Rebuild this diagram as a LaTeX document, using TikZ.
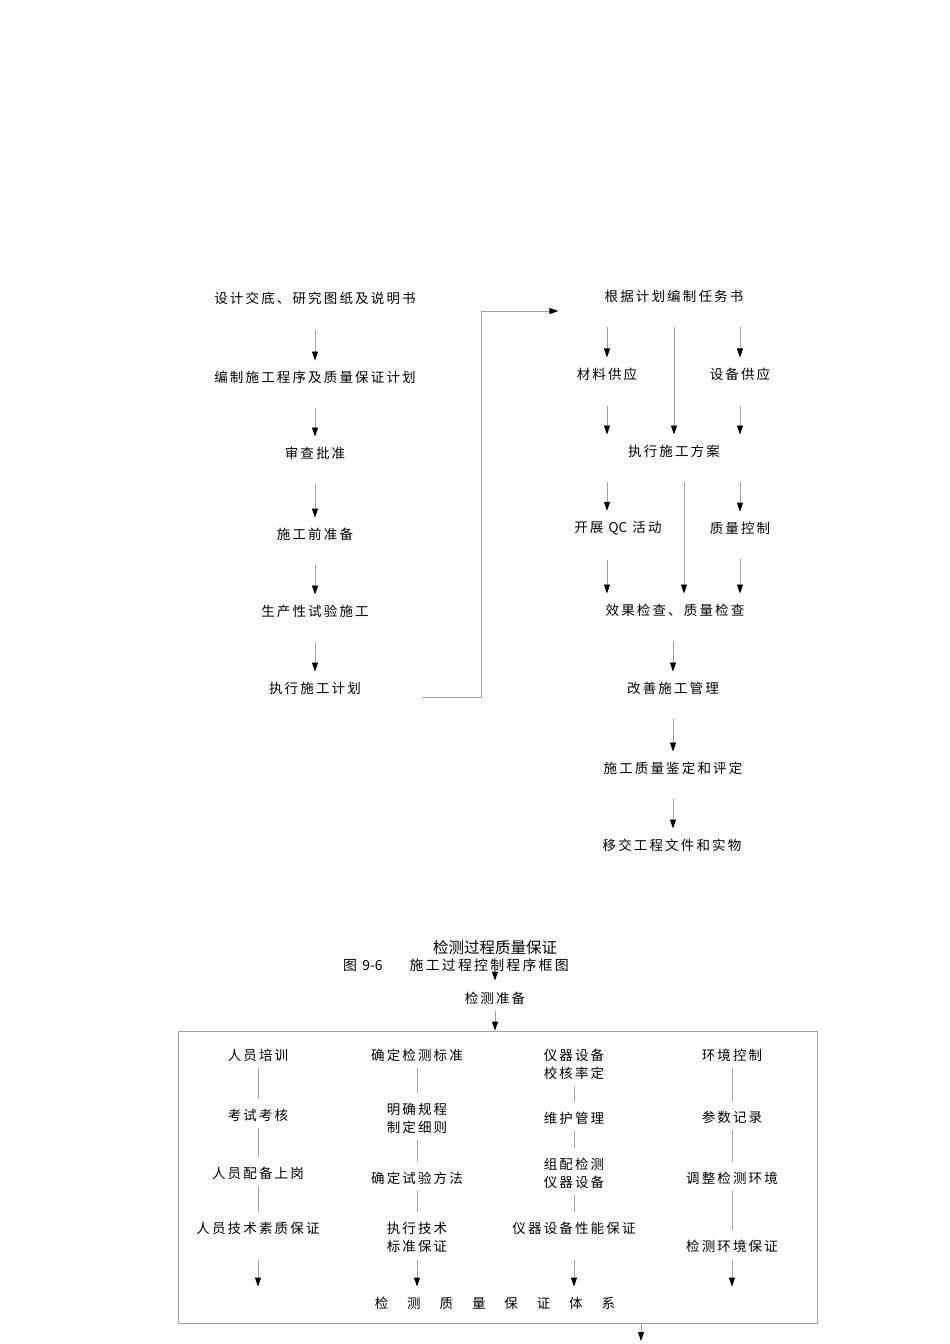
\documentclass[tikz,border=0pt]{standalone}
\usepackage{fontspec}
\usepackage{tikz}
\usetikzlibrary{arrows.meta}
\setmainfont{Noto Sans CJK SC}
\newfontfamily\cjk[LetterSpace=16]{Noto Sans CJK SC}
\definecolor{xianhui}{RGB}{160,160,160}

\begin{document}
\begin{tikzpicture}[x=1pt, y=-1pt,
	every node/.style={font=\cjk\fontsize{13.5}{18}\selectfont, inner sep=3pt, align=center},
	jiantou/.style={draw=xianhui, line width=0.9pt, -{Triangle[length=9pt,width=6pt,color=black]}, shorten <=22pt, shorten >=7pt},
	lianxian/.style={draw=xianhui, line width=0.9pt, shorten <=4pt, shorten >=7pt}]
			\useasboundingbox (0,0) rectangle (950,1344);
			\node (sj) at (315,298) {设计交底、研究图纸及说明书};
			\node (bz) at (315,377) {编制施工程序及质量保证计划};
			\node (sc) at (315,453) {审查批准};
			\node (zb1) at (315,534) {施工前准备};
			\node (sy) at (315,611) {生产性试验施工};
			\node (zxjh) at (315,688) {执行施工计划};
			\draw[jiantou] (sj) -- (bz);
			\draw[jiantou] (bz) -- (sc);
			\draw[jiantou] (sc) -- (zb1);
			\draw[jiantou] (zb1) -- (sy);
			\draw[jiantou] (sy) -- (zxjh);
			\node (gj) at (674,296) {根据计划编制任务书};
			\node (cl) at (607,374) {材料供应};
			\node (sb) at (740,374) {设备供应};
			\node (zx) at (674,451) {执行施工方案};
			\node (qc) at (618,528) {开展 {\normalfont QC} 活动};
			\node (zl) at (740,528) {质量控制};
			\node (xg) at (675,610) {效果检查、质量检查};
			\node (gs) at (673,688) {改善施工管理};
			\node (jd) at (673,768) {施工质量鉴定和评定};
			\node (yj) at (672,845) {移交工程文件和实物};
			\draw[draw=xianhui, line width=0.9pt, -{Triangle[length=9pt,width=6pt,color=black]}] ([xshift=58pt,yshift=-9pt]zxjh.east) -- ++(59,0) |- ([xshift=-43pt,yshift=-15pt]gj.west);
			\draw[jiantou] (cl.north |- gj.south) -- (cl.north);
			\draw[jiantou] (sb.north |- gj.south) -- (sb.north);
			\draw[jiantou] (gj) -- (zx);
			\draw[jiantou] (cl) -- (cl |- zx.north);
			\draw[jiantou] (sb) -- (sb |- zx.north);
			\draw[jiantou] (cl |- zx.south) -- (cl |- qc.north);
			\draw[jiantou] ([xshift=10pt]zx.south) -- ([xshift=10pt]zx.south |- xg.north);
			\draw[jiantou] (zl.north |- zx.south) -- (zl.north);
			\draw[jiantou] (cl |- qc.south) -- (cl |- xg.north);
			\draw[jiantou] (zl) -- (zl |- xg.north);
			\draw[jiantou] (gs |- xg.south) -- (gs);
			\draw[jiantou] (gs) -- (gs |- jd.north);
			\draw[jiantou] (jd) -- (jd |- yj.north);
			\node[font=\fontsize{15.5}{18}\selectfont] (jcbz) at (495,948) {检测过程质量保证};
			\node[anchor=west, font=\cjk\fontsize{13.9}{18}\selectfont] (tu) at (340,965) {图 {\normalfont 9-6}\hspace{27pt}施工过程控制程序框图};
			\node (zb) at (495,998) {检测准备};
			\draw[jiantou, shorten <=3pt, shorten >=8pt] (jcbz) -- (zb);
			\node[draw=xianhui, line width=0.9pt, minimum width=639pt, minimum height=292pt, inner sep=0pt] (kuang) at (497.5,1177) {};
			\draw[jiantou, shorten <=4pt, shorten >=0pt] (zb) -- (kuang.north -| zb);
			\node (ry) at (258,1055) {人员培训};
			\node (ks) at (258,1115) {考试考核};
			\node (pb) at (258,1173) {人员配备上岗};
			\node (rs) at (258,1228) {人员技术素质保证};
			\node (bzh) at (417,1055) {确定检测标准};
			\node (gc) at (417,1118) {明确规程\\制定细则};
			\node (ff) at (417,1178) {确定试验方法};
			\node (zxbz) at (417,1237) {执行技术\\标准保证};
			\node (jh) at (574,1064) {仪器设备\\校核率定};
			\node (wh) at (574,1118) {维护管理};
			\node (zp) at (574,1173) {组配检测\\仪器设备};
			\node (xn) at (574,1228) {仪器设备性能保证};
			\node (hj) at (732,1055) {环境控制};
			\node (cs) at (732,1117) {参数记录};
			\node (tz) at (732,1178) {调整检测环境};
			\node (hjbz) at (732,1246) {检测环境保证};
			\draw[lianxian] (ry) -- (ks);
			\draw[lianxian] (ks) -- (pb);
			\draw[lianxian] (pb) -- (rs);
			\draw[lianxian] (bzh) -- (gc);
			\draw[lianxian] (gc) -- (ff);
			\draw[lianxian] (ff) -- (zxbz);
			\draw[lianxian] (jh) -- (wh);
			\draw[lianxian] (wh) -- (zp);
			\draw[lianxian] (zp) -- (xn);
			\draw[lianxian] (hj) -- (cs);
			\draw[lianxian] (cs) -- (tz);
			\draw[lianxian] (tz) -- (hjbz);
			\node (tx) at (495,1303) {检\hspace{18.9pt}测\hspace{18.9pt}质\hspace{18.9pt}量\hspace{18.9pt}保\hspace{18.9pt}证\hspace{18.9pt}体\hspace{18.9pt}系};
			\coordinate (dingduan) at (0,1260);
			\draw[jiantou, shorten <=0pt] (rs |- dingduan) -- (rs |- tx.north);
			\draw[jiantou, shorten <=0pt] (zxbz |- dingduan) -- (zxbz |- tx.north);
			\draw[jiantou, shorten <=0pt] (xn |- dingduan) -- (xn |- tx.north);
			\draw[jiantou, shorten <=0pt] (hjbz |- dingduan) -- (hjbz |- tx.north);
			\coordinate (chukou) at (641,1341);
			\draw[jiantou, shorten <=0pt, shorten >=0pt] (kuang.south -| chukou) -- (chukou);
		\end{tikzpicture}
\end{document}
